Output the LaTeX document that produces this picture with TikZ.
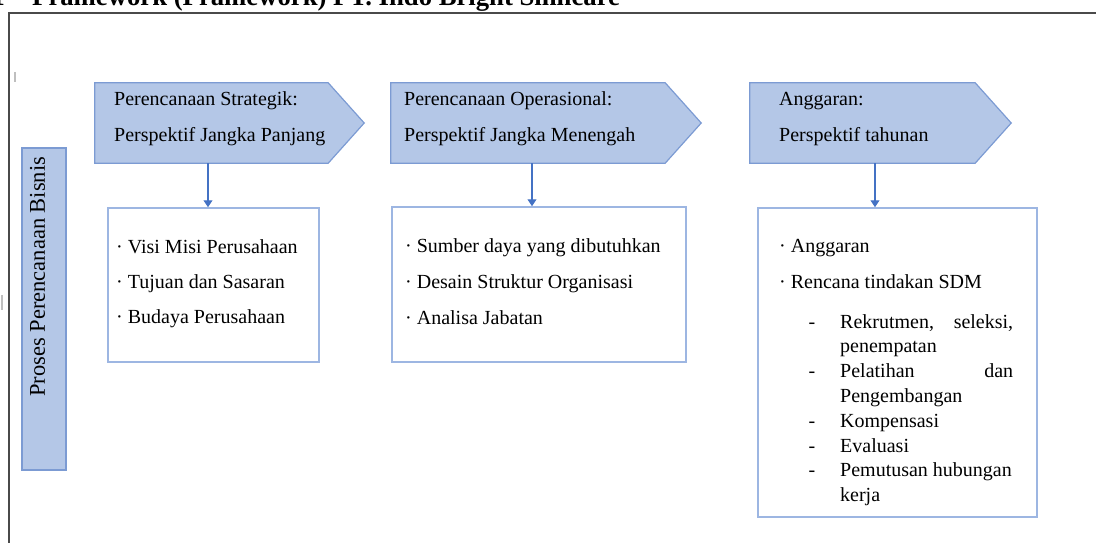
\documentclass[tikz,border=0pt]{standalone}
\usepackage{fontspec}
\setmainfont{Liberation Serif}
\usetikzlibrary{arrows.meta}

\definecolor{arrowfill}{HTML}{B4C7E7}
\definecolor{arrowline}{HTML}{7C9BD3}
\definecolor{boxline}{HTML}{9DB6E2}
\definecolor{linkblue}{HTML}{4472C4}
\definecolor{framegray}{HTML}{4A4A4A}

\tikzset{
  body/.style={rectangle, inner sep=0pt, minimum height=80pt},
  arrowshape/.style={draw=arrowline, fill=arrowfill, line width=1.2pt, line join=miter},
  listbox/.style={draw=boxline, line width=1.5pt, inner sep=0pt},
  conn/.style={draw=linkblue, line width=1.2pt, -{Triangle[length=7pt,width=9pt]}},
  txt/.style={inner sep=0pt, anchor=base west, font=\fontsize{20}{24}\selectfont},
  strip/.style={inner sep=0pt, anchor=base, font=\fontsize{20}{24}\selectfont},
  hint/.style={draw=black!25, line width=1.5pt},
}

\begin{document}
\begin{tikzpicture}[x=1pt,y=-1pt]
    \useasboundingbox (0,0) rectangle (1096,543);
    \clip (0,0) rectangle (1096,543);

    % judul (terpotong di atas)
    \node[txt, anchor=base east, font=\bfseries\fontsize{26.5}{30}\selectfont] (nomor) at (5,6) {1};
    \node[txt, font=\bfseries\fontsize{26.7}{30}\selectfont] (judul) at (32,6) {Framework (Framework) PT. Indo Bright Sinncare};

    % bingkai
    \draw[framegray, line width=2.5pt] (9,543) -- (9,13) -- (1096,13);
    \draw[hint] (15,72) -- (15,82);
    \draw[hint] (2,295) -- (2,310);

    % proses perencanaan bisnis
    \node[draw=arrowline, fill=arrowfill, line width=1.2pt, minimum width=44pt, minimum height=322pt, inner sep=0pt] (proses) at (44,309) {};
    \node[txt, rotate=90, font=\fontsize{22.5}{24}\selectfont] (proseslbl) at (45,397) {Proses Perencanaan Bisnis};

    % panah perencanaan
    \node[body, minimum width=233pt] (strategik) at (211.5,123) {};
    \node[body, minimum width=274pt] (operasional) at (528,123) {};
    \node[body, minimum width=225pt] (anggaran) at (862.5,123) {};
    \foreach \n in {strategik,operasional,anggaran}
        \draw[arrowshape] (\n.north west) -- (\n.north east) -- ([xshift=36pt]\n.east) -- (\n.south east) -- (\n.south west) -- cycle;

    \node[txt] (strategik1) at (114,106) {Perencanaan Strategik:};
    \node[txt] (strategik2) at (114,141) {Perspektif Jangka Panjang};
    \node[txt] (operasional1) at (404,106) {Perencanaan Operasional:};
    \node[txt] (operasional2) at (404,141) {Perspektif Jangka Menengah};
    \node[txt] (anggaran1) at (779,106) {Anggaran:};
    \node[txt] (anggaran2) at (779,141) {Perspektif tahunan};

    % kotak isi
    \node[listbox, minimum width=211pt, minimum height=154pt] (visi) at (213.5,285) {};
    \node[listbox, minimum width=294pt, minimum height=155pt] (sumber) at (539,284.5) {};
    \node[listbox, minimum width=279pt, minimum height=309pt] (sdm) at (897.5,362.5) {};

    % penghubung
    \draw[conn] ([xshift=-3.5pt]strategik.south) -- ([xshift=-3.5pt]strategik.south |- visi.north);
    \draw[conn] ([xshift=4pt]operasional.south) -- ([xshift=4pt]operasional.south |- sumber.north);
    \draw[conn] ([xshift=12.5pt]anggaran.south) -- ([xshift=12.5pt]anggaran.south |- sdm.north);

    % isi kotak 1
    \node[txt] (visi1) at (116,253) {· Visi Misi Perusahaan};
    \node[txt] (visi2) at (116,288) {· Tujuan dan Sasaran};
    \node[txt] (visi3) at (116,323) {· Budaya Perusahaan};

    % isi kotak 2
    \node[txt] (sumber1) at (405,252) {· Sumber daya yang dibutuhkan};
    \node[txt] (sumber2) at (405,288) {· Desain Struktur Organisasi};
    \node[txt] (sumber3) at (405,324) {· Analisa Jabatan};

    % isi kotak 3
    \node[txt] (sdm1) at (779,252) {· Anggaran};
    \node[txt] (sdm2) at (779,288) {· Rencana tindakan SDM};
    \foreach \y [count=\i] in {328,377.6,427.2,452,476.8}
        \node[strip] (garis\i) at (812,\y) {-};
    \node[txt] (rekrut) at (840,328) {\makebox[173pt][l]{Rekrutmen,\hfill seleksi,}};
    \node[txt] (tempat) at (840,352.8) {penempatan};
    \node[txt] (latih) at (840,377.6) {\makebox[173pt][l]{Pelatihan\hfill dan}};
    \node[txt] (kembang) at (840,402.4) {Pengembangan};
    \node[txt] (kompen) at (840,427.2) {Kompensasi};
    \node[txt] (evaluasi) at (840,452) {Evaluasi};
    \node[txt] (putus) at (840,476.8) {Pemutusan hubungan};
    \node[txt] (kerja) at (840,501.6) {kerja};
\end{tikzpicture}
\end{document}
